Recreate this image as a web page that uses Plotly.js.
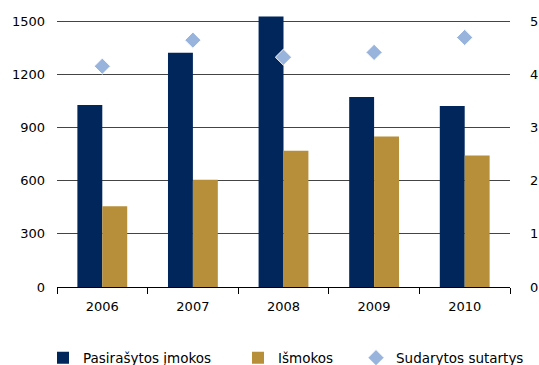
<!DOCTYPE html>
<html>
<head>
<meta charset="utf-8">
<script src="https://cdn.plot.ly/plotly-3.0.1.min.js"></script>
<style>html,body{margin:0;padding:0;background:#fff;}#chart{width:539px;height:365px;}</style>
</head>
<body>
<div id="chart"></div>
<script>
var years = ['2006', '2007', '2008', '2009', '2010'];
var pasirasytosImokos = [1026, 1321, 1525, 1072, 1021];
var ismokos = [455, 605, 769, 848, 741];
var sudarytosSutartys = [4.15, 4.64, 4.32, 4.41, 4.69];
var leftTicks = [0, 300, 600, 900, 1200, 1500];
var rightTicks = [0, 1, 2, 3, 4, 5];

var font = {family: 'DejaVu Sans, sans-serif', size: 13, color: '#000'};
var legFont = {family: 'DejaVu Sans, sans-serif', size: 13.5, color: '#000'};

var traces = [
  {type: 'bar', name: 'Pasirašytos įmokos', x: years, y: pasirasytosImokos, cliponaxis: false,
   marker: {color: '#00265c'}, yaxis: 'y', legend: 'legend', hoverinfo: 'skip'},
  {type: 'bar', name: 'Išmokos', x: years, y: ismokos, cliponaxis: false,
   marker: {color: '#b78f3a'}, yaxis: 'y', legend: 'legend2', hoverinfo: 'skip'},
  {type: 'scatter', mode: 'markers', name: 'Sudarytos sutartys', x: years, y: sudarytosSutartys,
   marker: {symbol: 'diamond', size: 12.5, color: '#98b3dc', line: {color: '#fff', width: 1}},
   yaxis: 'y2', legend: 'legend3', hoverinfo: 'skip', cliponaxis: false}
];

function leg(xp) {
  return {orientation: 'h', x: (xp - 57) / 453, xanchor: 'left', yref: 'container', y: 0.062, yanchor: 'top',
          font: legFont, itemwidth: 30, bgcolor: 'rgba(0,0,0,0)'};
}

// plot area: 0 at y=287px, 1500 (and 5) at y=21px; a little headroom above the top gridline
var topMargin = 16, bottomMargin = 78;
var plotH = 365 - topMargin - bottomMargin;
var ratio = plotH / 266;

var layout = {
  width: 539, height: 365,
  margin: {l: 57, r: 29, t: topMargin, b: bottomMargin},
  paper_bgcolor: '#fff', plot_bgcolor: '#fff',
  font: font,
  barmode: 'group', bargap: 0.45, bargroupgap: 0,
  showlegend: true,
  legend: leg(43),
  legend2: leg(238),
  legend3: leg(356),
  xaxis: {type: 'category', tickvals: years, ticktext: years, showline: true, linecolor: '#000', linewidth: 1,
          ticks: 'outside', tickson: 'boundaries', ticklen: 6, tickcolor: '#000', showgrid: false,
          ticklabelstandoff: 7, tickfont: font, fixedrange: true, automargin: false},
  yaxis: {range: [0, 1500 * ratio], tickvals: leftTicks, ticktext: leftTicks.map(String), showgrid: true,
          gridcolor: '#444', gridwidth: 1, zeroline: false, showline: false, ticks: '',
          ticklabelstandoff: 11, tickfont: font, fixedrange: true, automargin: false},
  yaxis2: {range: [0, 5 * ratio], tickvals: rightTicks, ticktext: rightTicks.map(String), overlaying: 'y', side: 'right',
           showgrid: false, zeroline: false, showline: false, ticks: '', ticklabelstandoff: 19,
           tickfont: font, fixedrange: true, automargin: false}
};

Plotly.newPlot('chart', traces, layout, {displayModeBar: false, staticPlot: true});
</script>
</body>
</html>
